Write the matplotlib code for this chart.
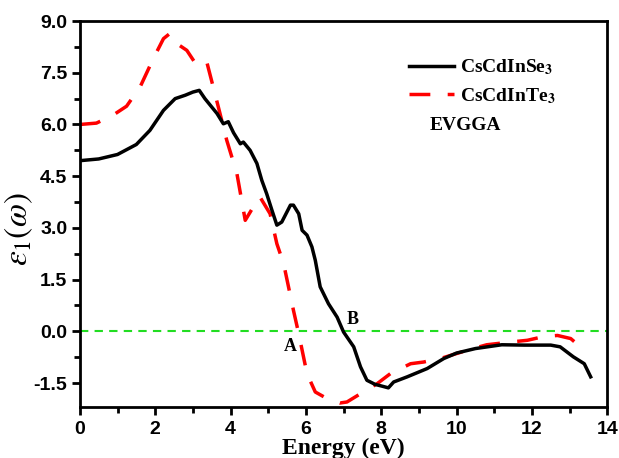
import matplotlib.pyplot as plt
from matplotlib.ticker import MultipleLocator

plt.rcParams['mathtext.fontset'] = 'stix'

# CsCdInSe3 (black solid)
e_se = [0.0, 0.5, 1.0, 1.5, 1.86, 2.22, 2.53, 2.8, 3.0, 3.17, 3.32, 3.64, 3.81, 3.94,
        4.08, 4.26, 4.34, 4.52, 4.7, 4.83, 4.96, 5.1, 5.23, 5.36, 5.59, 5.67, 5.81,
        5.9, 6.03, 6.16, 6.25, 6.38, 6.6, 6.83, 7.0, 7.27, 7.45, 7.62, 7.84, 8.02,
        8.19, 8.33, 8.69, 9.22, 9.66, 10.0, 10.5, 11.2, 11.8, 12.5, 12.75, 13.1,
        13.39, 13.56]
eps_se = [4.95, 5.0, 5.13, 5.42, 5.83, 6.41, 6.75, 6.85, 6.94, 6.99, 6.75, 6.32, 6.02, 6.08,
          5.76, 5.44, 5.49, 5.25, 4.87, 4.38, 3.99, 3.51, 3.08, 3.17, 3.66, 3.66, 3.41,
          2.93, 2.79, 2.45, 2.06, 1.29, 0.8, 0.41, -0.02, -0.45, -1.03, -1.42, -1.54, -1.59,
          -1.64, -1.47, -1.32, -1.08, -0.79, -0.63, -0.5, -0.39, -0.4, -0.4, -0.45, -0.74,
          -0.94, -1.32]

# CsCdInTe3 (red dashed)
e_te = [0.0, 0.44, 0.88, 1.24, 1.6, 1.95, 2.22, 2.39, 2.57, 2.84, 3.1, 3.24, 3.37,
        3.54, 3.72, 3.9, 4.17, 4.39, 4.6, 4.78, 5.05, 5.23, 5.41, 5.67, 5.81, 6.03,
        6.25, 6.56, 6.9, 7.09, 7.45, 7.89, 8.24, 8.78, 9.13, 9.66, 10.28, 10.8, 11.44,
        11.88, 12.32, 12.68, 13.03, 13.34]
eps_te = [6.0, 6.04, 6.27, 6.53, 7.09, 7.91, 8.49, 8.64, 8.35, 8.15, 7.72, 7.77, 7.81,
          7.09, 6.32, 5.54, 4.57, 3.22, 3.6, 3.9, 3.41, 2.54, 1.96, 0.61, -0.07, -1.23,
          -1.76, -1.95, -2.08, -2.05, -1.81, -1.52, -1.23, -0.94, -0.89, -0.76, -0.55, -0.39,
          -0.31, -0.26, -0.15, -0.12, -0.21, -0.5]

yticks = [-1.5, 0, 1.5, 3.0, 4.5, 6.0, 7.5, 9.0]

fig = plt.figure(figsize=(6.19, 4.58), dpi=100)
ax = fig.add_axes([0.129, 0.111, 0.852, 0.843])

ax.axhline(0, color='#22dd22', lw=1.5, ls=(0, (4, 3)), zorder=1)
ax.plot(e_se, eps_se, color='black', lw=2.5, label=r'CsCdInSe$_\mathbf{3}$', zorder=3)
ax.plot(e_te, eps_te, color='red', lw=2.5, ls=(0, (6, 5)), label=r'CsCdInTe$_\mathbf{3}$', zorder=2)

ax.set_xlim(0, 14)
ax.set_ylim(-2.2, 9.0)
ax.xaxis.set_major_locator(MultipleLocator(2))
ax.xaxis.set_minor_locator(MultipleLocator(1))
ax.yaxis.set_minor_locator(MultipleLocator(0.75))
ax.set_yticks(yticks)
ax.set_yticklabels(['%.1f' % v for v in yticks])
ax.tick_params(which='both', direction='out', width=2, top=False, right=False)
ax.tick_params(which='major', length=6, labelsize=14)
ax.tick_params(axis='x', which='major', pad=4)
ax.tick_params(axis='y', which='major', pad=3)
ax.tick_params(which='minor', length=4)
for lab in ax.get_xticklabels() + ax.get_yticklabels():
    lab.set_fontfamily('Liberation Sans')
    lab.set_fontweight('bold')
for s in ax.spines.values():
    s.set_linewidth(2)

ax.set_xlabel('Energy (eV)', fontfamily='Liberation Serif', fontweight='bold', fontsize=17, labelpad=0)
ax.set_ylabel(r'$\varepsilon_1(\omega)$', fontsize=24)
ax.yaxis.set_label_coords(-0.085, 0.46)

leg = ax.legend(loc='upper left', bbox_to_anchor=(0.625, 0.905), frameon=False,
                prop={'family': 'Liberation Serif', 'weight': 'bold', 'size': 14},
                handlelength=2.3, handletextpad=0.3, labelspacing=0.45,
                borderpad=0, borderaxespad=0)
ax.text(0.664, 0.73, 'EVGGA', transform=ax.transAxes, fontfamily='Liberation Serif',
        fontweight='bold', fontsize=14, va='center')
ax.text(5.6, -0.45, 'A', fontfamily='Liberation Serif', fontweight='bold', fontsize=13,
        ha='center', va='center')
ax.text(7.25, 0.35, 'B', fontfamily='Liberation Serif', fontweight='bold', fontsize=13,
        ha='center', va='center')

fig.savefig('out.png', dpi=100)
